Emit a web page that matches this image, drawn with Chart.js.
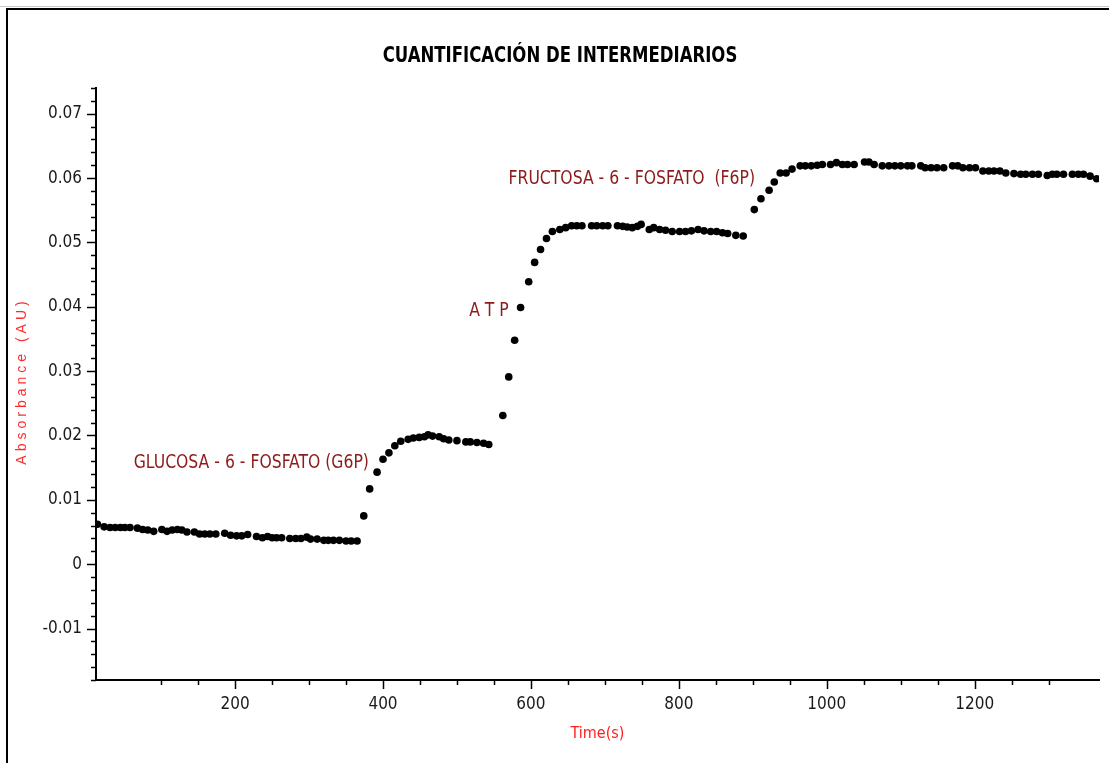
<!DOCTYPE html>
<html>
<head>
<meta charset="utf-8">
<script src="https://cdn.jsdelivr.net/npm/chart.js@4.4.1/dist/chart.umd.min.js"></script>
<style>
  html, body { margin: 0; padding: 0; background: #fff; overflow: hidden; }
  #wrap { position: relative; width: 1109px; height: 763px; }
</style>
</head>
<body>
<div id="wrap"><canvas id="chart"></canvas></div>
<script>
// time (s) of each reading
const timeSec = [
  14, 23, 31, 38, 45, 51, 58, 68, 75, 82, 90, 101, 108, 115, 122, 128, 135, 145, 152, 159,
  166, 174, 186, 194, 202, 209, 217, 229, 237, 244, 250, 256, 263, 274, 282, 289, 297, 302, 311, 320,
  326, 333, 341, 350, 357, 365,
  374, 382, 392, 400, 408, 416, 424, 434, 441, 449, 456, 461, 467, 476, 482, 489, 500, 512, 518, 527,
  536, 543,
  562, 570, 578, 586, 597, 605, 613, 621, 629, 639, 647,
  655, 662, 669, 682, 689, 697, 704, 717, 724, 730, 737, 744, 749, 760, 766, 774, 782, 791, 801, 809,
  817, 826, 834, 843, 851, 859, 866, 877, 887,
  902, 911, 922, 929, 937, 945, 953, 964, 971, 979, 987, 994, 1005, 1013, 1021, 1028, 1037, 1051, 1057, 1064,
  1075, 1084, 1092, 1100, 1109, 1115, 1127, 1133, 1141, 1149, 1158, 1170, 1177, 1184, 1193, 1201, 1211, 1219, 1226, 1234,
  1242, 1253, 1262, 1269, 1278, 1286, 1298, 1305, 1311, 1320, 1332, 1340, 1347, 1356, 1365
];

// absorbance (AU)
const absorbance = [
  0.0062, 0.0058, 0.0057, 0.0057, 0.0057, 0.0057, 0.0057, 0.0056, 0.0054, 0.0053, 0.0051, 0.0054, 0.0051, 0.0053, 0.0054, 0.0053, 0.0050, 0.0050, 0.0047, 0.0047,
  0.0047, 0.0047, 0.0048, 0.0045, 0.0044, 0.0044, 0.0046, 0.0043, 0.0041, 0.0043, 0.0041, 0.0041, 0.0041, 0.0040, 0.0040, 0.0040, 0.0042, 0.0039, 0.0039, 0.0037,
  0.0037, 0.0037, 0.0037, 0.0036, 0.0036, 0.0036,
  0.0075, 0.0117, 0.0143, 0.0163, 0.0173, 0.0184, 0.0191, 0.0194, 0.0196, 0.0197, 0.0198, 0.0201, 0.0199, 0.0198, 0.0195, 0.0193, 0.0192, 0.0190, 0.0190, 0.0189,
  0.0188, 0.0186,
  0.0231, 0.0291, 0.0348, 0.0399, 0.0439, 0.0469, 0.0489, 0.0506, 0.0517, 0.0520, 0.0523,
  0.0526, 0.0526, 0.0526, 0.0526, 0.0526, 0.0526, 0.0526, 0.0526, 0.0525, 0.0524, 0.0523, 0.0525, 0.0528, 0.0520, 0.0523, 0.0520, 0.0519, 0.0517, 0.0517, 0.0517,
  0.0518, 0.0520, 0.0518, 0.0517, 0.0517, 0.0515, 0.0514, 0.0511, 0.0510,
  0.0551, 0.0568, 0.0581, 0.0594, 0.0608, 0.0608, 0.0614, 0.0619, 0.0619, 0.0619, 0.0620, 0.0621, 0.0621, 0.0624, 0.0621, 0.0621, 0.0621, 0.0625, 0.0625, 0.0621,
  0.0619, 0.0619, 0.0619, 0.0619, 0.0619, 0.0619, 0.0619, 0.0616, 0.0616, 0.0616, 0.0616, 0.0619, 0.0619, 0.0616, 0.0616, 0.0616, 0.0611, 0.0611, 0.0611, 0.0611,
  0.0608, 0.0607, 0.0606, 0.0606, 0.0606, 0.0606, 0.0604, 0.0606, 0.0606, 0.0606, 0.0606, 0.0606, 0.0606, 0.0603, 0.0599
];

// text labels placed next to the steps (right end, middle, in data units)
const notes = [
  { text: 'GLUCOSA - 6 - FOSFATO (G6P)', x: 381, y: 0.0157 },
  { text: 'A T P', x: 570, y: 0.0394 },
  { text: 'FRUCTOSA - 6 - FOSFATO  (F6P)', x: 903, y: 0.0598 }
];

const NARROW = "'Liberation Sans Narrow', 'Arial Narrow', 'DejaVu Sans Condensed', sans-serif";

function onStep(v, step) {
  const r = v / step;
  return Math.abs(r - Math.round(r)) < 1e-6;
}

// draws text squeezed horizontally, like the narrow font of the original
function narrowText(ctx, text, x, y, squeeze) {
  ctx.save();
  ctx.translate(x, y);
  ctx.scale(squeeze, 1);
  ctx.fillText(text, 0, 0);
  ctx.restore();
}

const decorations = {
  id: 'decorations',
  afterDraw(chart) {
    const {ctx, chartArea: area, scales: {x, y}} = chart;
    ctx.save();

    // outer frame
    ctx.strokeStyle = '#c8c8c8';
    ctx.lineWidth = 1;
    ctx.beginPath(); ctx.moveTo(0, 6.5); ctx.lineTo(chart.width, 6.5); ctx.stroke();
    ctx.strokeStyle = '#000';
    ctx.lineWidth = 2;
    ctx.beginPath();
    ctx.moveTo(7, chart.height); ctx.lineTo(7, 9); ctx.lineTo(chart.width, 9);
    ctx.stroke();

    // tick marks
    ctx.lineWidth = 1.5;
    y.ticks.forEach(t => {
      if (!onStep(t.value, 0.002)) return;
      const py = Math.round(y.getPixelForValue(t.value)) + 0.5;
      const len = onStep(t.value, 0.01) ? 9 : 5;
      ctx.beginPath(); ctx.moveTo(area.left - len, py); ctx.lineTo(area.left, py); ctx.stroke();
    });
    x.ticks.forEach(t => {
      if (!onStep(t.value, 50)) return;
      const px = Math.round(x.getPixelForValue(t.value)) + 0.5;
      const len = onStep(t.value, 200) ? 9 : 5;
      ctx.beginPath(); ctx.moveTo(px, area.bottom); ctx.lineTo(px, area.bottom + len); ctx.stroke();
    });

    // title
    ctx.fillStyle = '#000';
    ctx.font = "bold 21px " + NARROW;
    ctx.textAlign = 'center';
    ctx.textBaseline = 'middle';
    narrowText(ctx, 'CUANTIFICACIÓN DE INTERMEDIARIOS', 560, 57, 0.875);

    // y axis title
    ctx.save();
    ctx.translate(22, 381);
    ctx.rotate(-Math.PI / 2);
    ctx.font = "14px 'Liberation Sans', Arial, sans-serif";
    ctx.letterSpacing = '4px';
    ctx.fillStyle = '#ff2b2b';
    ctx.fillText('Absorbance (AU)', 0, 0);
    ctx.restore();

    // step labels
    ctx.font = "19px " + NARROW;
    ctx.fillStyle = '#8e1b1b';
    ctx.textAlign = 'right';
    ctx.textBaseline = 'middle';
    notes.forEach(n => {
      narrowText(ctx, n.text, x.getPixelForValue(n.x), y.getPixelForValue(n.y), 0.915);
    });

    ctx.restore();
  }
};

new Chart(document.getElementById('chart'), {
  type: 'scatter',
  data: {
    datasets: [{
      data: timeSec.map((t, i) => ({x: t, y: absorbance[i]})),
      showLine: false,
      pointRadius: 3.8,
      pointHoverRadius: 3.8,
      pointStyle: 'circle',
      backgroundColor: '#000',
      borderColor: '#000',
      borderWidth: 0
    }]
  },
  options: {
    responsive: true,
    maintainAspectRatio: false,
    animation: false,
    events: [],
    layout: {padding: {top: 88, right: 10, left: 0, bottom: 0}},
    plugins: {
      legend: {display: false},
      tooltip: {enabled: false},
      title: {display: false}
    },
    scales: {
      x: {
        type: 'linear',
        min: 12,
        max: 1368,
        afterFit: s => { s.height = 83; },
        grid: {display: true, drawOnChartArea: false, drawTicks: true, tickLength: 9, tickColor: 'rgba(0,0,0,0)'},
        border: {display: true, color: '#000', width: 2},
        ticks: {
          stepSize: 50,
          autoSkip: false,
          maxRotation: 0,
          padding: 5,
          color: '#1a1a1a',
          font: {family: NARROW, size: 17},
          callback: v => onStep(v, 200) ? String(Math.round(v)) : ''
        },
        title: {
          display: true,
          text: 'Time(s)',
          color: '#ff2020',
          font: {family: NARROW, size: 16},
          padding: {top: 0, bottom: 20}
        }
      },
      y: {
        type: 'linear',
        min: -0.018,
        max: 0.074,
        afterFit: s => { s.width = 96; },
        grid: {display: true, drawOnChartArea: false, drawTicks: true, tickLength: 9, tickColor: 'rgba(0,0,0,0)'},
        border: {display: true, color: '#000', width: 2},
        ticks: {
          stepSize: 0.002,
          autoSkip: false,
          padding: 5,
          color: '#1a1a1a',
          font: {family: NARROW, size: 17},
          callback: v => onStep(v, 0.01) ? String(+v.toFixed(2)) : ''
        }
      }
    }
  },
  plugins: [decorations]
});
</script>
</body>
</html>
